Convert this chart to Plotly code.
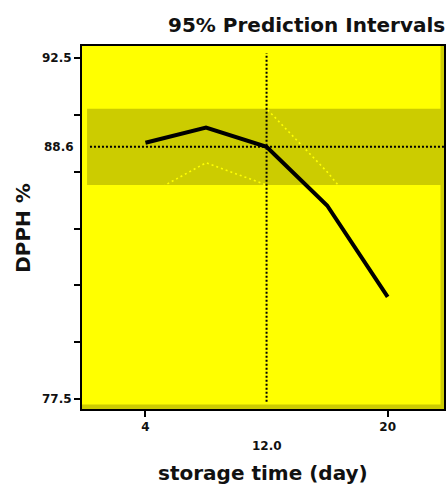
import plotly.graph_objects as go

# ---- data ----
days = [4, 8, 12, 16, 20]
dpph = [88.78, 89.45, 88.6, 86.02, 82.0]
upper_pi = [91.1, 91.0, 90.28, 87.5, 84.3]
lower_pi = [86.44, 87.9, 86.92, 84.5, 79.7]
current_x = 12.0
current_y = 88.6
band_lo = 86.92
band_hi = 90.28
y_tickvals = [77.5, 80, 82.5, 85, 87.5, 90, 92.5]
y_ticktext = ["77.5", "", "", "", "", "", "92.5"]
x_tickvals = [4, 20]
x_ticktext = ["4", "20"]

BG = "#FFFF00"
OLIVE = "#CCCC00"
FONT = "DejaVu Sans"
TXT = "#111111"

fig = go.Figure()

# prediction interval lines (drawn in background yellow -> visible only on the band)
for ys in (upper_pi, lower_pi):
    fig.add_trace(go.Scatter(x=days, y=ys, mode="lines",
                             line=dict(color=BG, width=1.6, dash="2px,3px"),
                             hoverinfo="skip", showlegend=False))

# main prediction line
fig.add_trace(go.Scatter(x=days, y=dpph, mode="lines",
                         line=dict(color="black", width=4),
                         showlegend=False))

shapes = [
    # band of current interval
    dict(type="rect", xref="paper", yref="y", x0=0.014, x1=1, y0=band_lo, y1=band_hi,
         fillcolor=OLIVE, line=dict(width=0), layer="below"),
    # bevel strips
    dict(type="rect", xref="paper", yref="paper", x0=1 - 3.5 / 364, x1=1, y0=0, y1=1,
         fillcolor=OLIVE, line=dict(width=0), layer="below"),
    dict(type="rect", xref="paper", yref="paper", x0=0, x1=1, y0=0, y1=4.5 / 363,
         fillcolor=OLIVE, line=dict(width=0), layer="below"),
    # crosshair
    dict(type="line", xref="x", yref="paper", x0=current_x, x1=current_x, y0=0.02, y1=0.98,
         line=dict(color="black", width=2, dash="2px,2px"), layer="above"),
    dict(type="line", xref="paper", yref="y", x0=0.022, x1=1, y0=current_y, y1=current_y,
         line=dict(color="black", width=2, dash="2px,2px"), layer="above"),
]

annotations = [
    dict(text="<b>95% Prediction Intervals</b>", xref="paper", yref="paper",
         x=(307.5 - 82) / 364, y=1 + (46 - 25) / 363, xanchor="center", yanchor="middle",
         showarrow=False, font=dict(family=FONT, size=20, color=TXT)),
    dict(text="<b>%.1f</b>" % current_y, xref="paper", yref="y", x=0, y=current_y,
         xanchor="right", yanchor="middle", xshift=-6, showarrow=False,
         font=dict(family=FONT, size=12, color=TXT)),
    dict(text="<b>%.1f</b>" % current_x, xref="x", yref="paper", x=current_x,
         y=(409 - 446) / 363, xanchor="center", yanchor="middle", showarrow=False,
         font=dict(family=FONT, size=12, color=TXT)),
    dict(text="<b>storage time (day)</b>", xref="paper", yref="paper", x=0.5,
         y=(409 - 473) / 363, xanchor="center", yanchor="middle", showarrow=False,
         font=dict(family=FONT, size=20, color=TXT)),
    dict(text="<b>DPPH %</b>", xref="paper", yref="paper", x=(22 - 82) / 364,
         y=0.5, xanchor="center", yanchor="middle", textangle=-90, showarrow=False,
         font=dict(family=FONT, size=20, color=TXT)),
]

fig.update_layout(
    width=448, height=484,
    margin=dict(l=82, r=2, t=46, b=75),
    paper_bgcolor="white", plot_bgcolor=BG,
    shapes=shapes, annotations=annotations,
    xaxis=dict(range=[-0.19, 23.72], tickvals=x_tickvals, ticktext=x_ticktext,
               ticks="outside", ticklen=6, tickwidth=1.5, tickcolor="black",
               showgrid=False, zeroline=False, showline=True, linecolor="black",
               linewidth=2, mirror=True,
               tickfont=dict(family=FONT, size=12, color=TXT, weight="bold")),
    yaxis=dict(range=[77.06, 93.04], tickvals=y_tickvals, ticktext=y_ticktext,
               ticks="outside", ticklen=6, tickwidth=1.5, tickcolor="black",
               showgrid=False, zeroline=False, showline=True, linecolor="black",
               linewidth=2, mirror=True,
               tickfont=dict(family=FONT, size=12, color=TXT, weight="bold")),
)

fig.write_html("out.html")
